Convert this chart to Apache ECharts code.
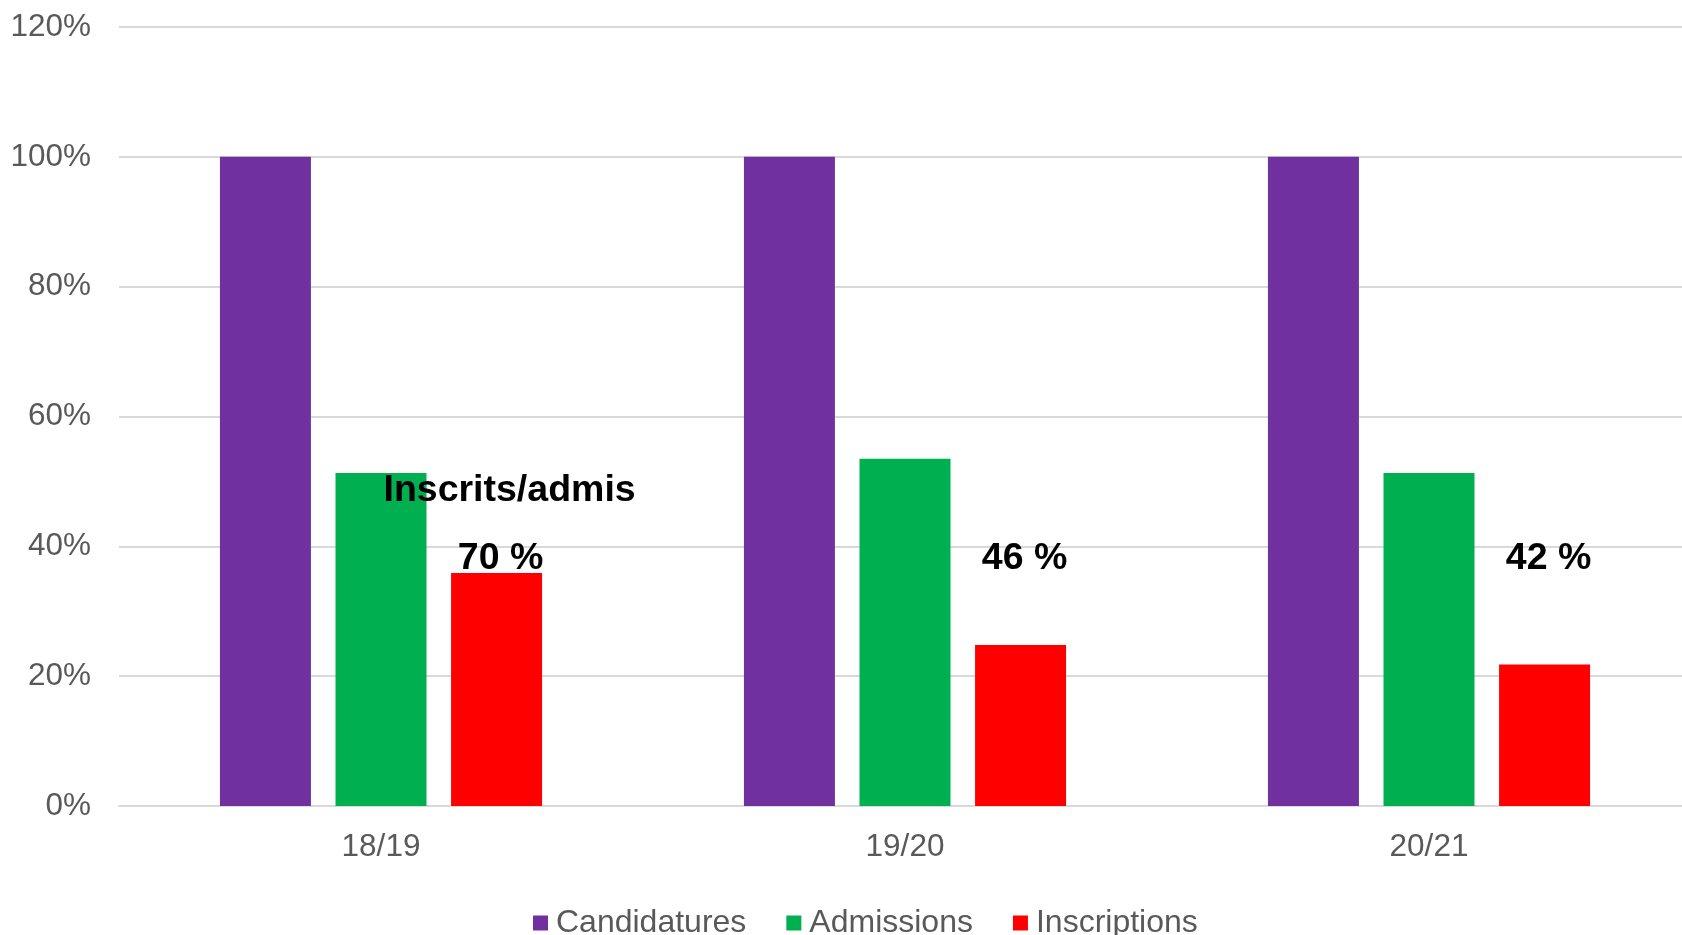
<!DOCTYPE html>
<html>
<head>
<meta charset="utf-8">
<script src="https://cdn.jsdelivr.net/npm/echarts@6/dist/echarts.min.js"></script>
<style>
  html, body { margin: 0; padding: 0; background: #fff; }
  #chart { width: 1682px; height: 935px; }
</style>
</head>
<body>
<div id="chart"></div>
<script>
// data (percent)
const years = ['18/19', '19/20', '20/21'];
const candidatures = [100, 100, 100];
const admissions = [51.3, 53.5, 51.3];
const inscriptions = [35.9, 24.8, 21.8];
const ratioLabels = ['70 %', '46 %', '42 %'];
const yTicks = { min: 0, max: 120, interval: 20 };

// height (in %) where the annotation texts sit
const ratioLevel = 38.1;
const titleLevel = 48.5;

const font = 'Liberation Sans, Arial, sans-serif';
const grey = '#595959';

let chart = echarts.init(document.getElementById('chart'));

let marks = years.map(function (y, i) {
  return { name: ratioLabels[i], coord: [y, ratioLevel], label: { offset: [4, 0] } };
});
marks.push({ name: 'Inscrits/admis', coord: [years[0], titleLevel], label: { offset: [13, 0] } });

chart.setOption({
  animation: false,
  grid: { left: 119, top: 27, width: 1572, height: 779, outerBoundsMode: 'none', containLabel: false },
  legend: {
    left: 528,
    top: 902,
    icon: 'rect',
    itemWidth: 15,
    itemHeight: 15,
    itemGap: 40,
    textStyle: { fontFamily: font, fontSize: 32, color: grey, padding: [0, 0, 0, 3] },
    data: ['Candidatures', 'Admissions', 'Inscriptions']
  },
  xAxis: {
    type: 'category',
    data: years,
    axisLine: { lineStyle: { color: '#d9d9d9', width: 2 } },
    axisTick: { show: false },
    axisLabel: { fontFamily: font, fontSize: 31.5, color: grey, margin: 25 }
  },
  yAxis: {
    type: 'value',
    min: yTicks.min,
    max: yTicks.max,
    interval: yTicks.interval,
    axisLine: { show: false },
    axisTick: { show: false },
    splitLine: { lineStyle: { color: '#d9d9d9', width: 2 } },
    axisLabel: { fontFamily: font, fontSize: 31.5, color: grey, margin: 28, formatter: '{value}%' }
  },
  series: [
    {
      name: 'Candidatures',
      type: 'bar',
      barWidth: 91,
      barGap: '27%',
      data: candidatures,
      itemStyle: { color: '#7030A0' }
    },
    {
      name: 'Admissions',
      type: 'bar',
      barWidth: 91,
      barGap: '27%',
      data: admissions,
      itemStyle: { color: '#00B050' }
    },
    {
      name: 'Inscriptions',
      type: 'bar',
      barWidth: 91,
      barGap: '27%',
      data: inscriptions,
      itemStyle: { color: '#FF0000' },
      markPoint: {
        symbol: 'circle',
        symbolSize: 1,
        itemStyle: { color: 'rgba(0,0,0,0)' },
        label: {
          show: true,
          position: 'inside',
          formatter: '{b}',
          fontFamily: font,
          fontSize: 37.5,
          fontWeight: 'bold',
          color: '#000'
        },
        data: marks
      }
    }
  ]
});
</script>
</body>
</html>
